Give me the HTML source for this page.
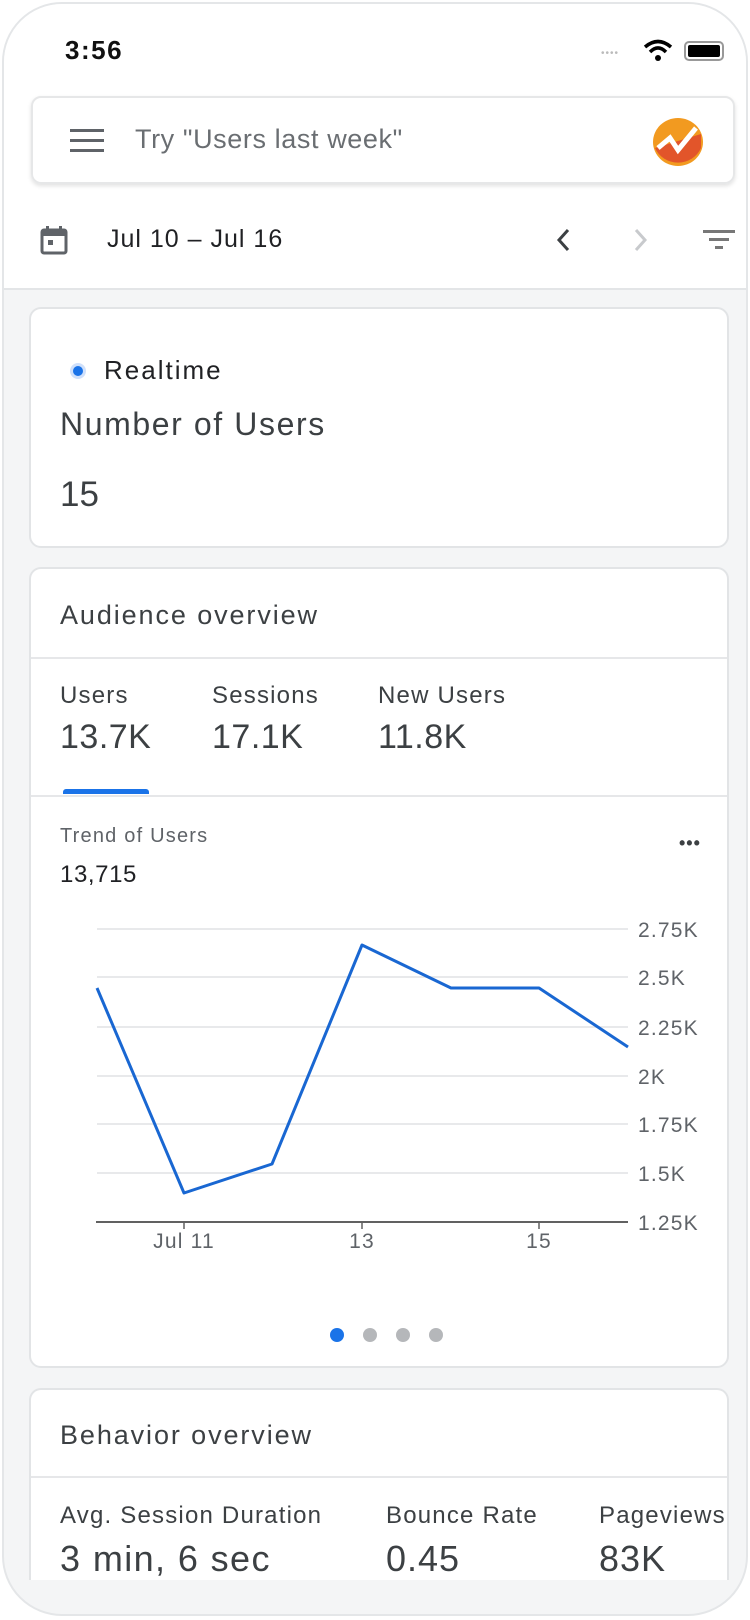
<!DOCTYPE html>
<html><head><meta charset="utf-8"><style>
*{margin:0;padding:0;box-sizing:border-box}
body{width:750px;height:1620px;background:#fff;font-family:"Liberation Sans",Arial,sans-serif;color:#202124;position:relative;overflow:hidden}
.frame{position:absolute;left:2px;top:2px;width:746px;height:1614px;border:2px solid #e4e6e8;border-radius:60px;background:#f4f5f6;overflow:hidden}
.top{position:absolute;left:0;top:0;width:746px;height:286px;background:#fff;border-bottom:2px solid #e3e5e7}
.a{position:absolute;white-space:nowrap}
.card{position:absolute;left:29px;width:700px;background:#fff;border:2px solid #e2e4e6;border-radius:12px;overflow:hidden}
.hr{position:absolute;left:0;right:0;height:2px;background:#e6e7e9}
.lbl{font-size:24px;letter-spacing:1.2px;color:#3c4043}
.ttl{font-size:27px;letter-spacing:1.9px;color:#3c4043}
</style></head><body>
<div class="frame">
<div class="top">
 <div class="a" style="left:61px;top:31px;font-size:26px;letter-spacing:1.5px;font-weight:bold;color:#111">3:56</div>
 <div class="a" style="left:597px;top:44px;font-size:10px;color:#bbb;letter-spacing:1px">••••</div>
 <svg class="a" style="left:639px;top:35px" width="30" height="24" viewBox="0 0 30 24"><path d="M2 8 Q15 -3 28 8" stroke="#000" stroke-width="3.5" fill="none"/><path d="M7 13 Q15 5 23 13" stroke="#000" stroke-width="3.5" fill="none"/><circle cx="15" cy="19" r="3" fill="#000"/></svg>
 <div class="a" style="left:680px;top:37px;width:40px;height:20px;border:2px solid #999;border-radius:5px;padding:2px"><div style="width:100%;height:100%;background:#000;border-radius:2px"></div></div>
 <div class="a" style="left:27px;top:92px;width:704px;height:88px;border:2px solid #e6e7e8;border-radius:10px;box-shadow:0 2px 4px rgba(0,0,0,.12)"></div>
 <div class="a" style="left:66px;top:125px;width:34px;height:3px;background:#5f6368;box-shadow:0 10px 0 #5f6368,0 20px 0 #5f6368"></div>
 <div class="a" style="left:131px;top:120px;font-size:27px;letter-spacing:0.6px;color:#6a6e72">Try "Users last week"</div>
 <svg class="a" style="left:646px;top:110px" width="56" height="56" viewBox="0 0 56 56"><ellipse cx="28" cy="28" rx="25" ry="24" fill="#f29a20"/><path d="M5 34 A25 24 0 0 0 51 34 L51 20 Z" fill="#e2552a"/><path d="M8 34 L20 24 L28 36 L46 14" stroke="#fff" stroke-width="5" fill="none"/></svg>
 <svg class="a" style="left:36px;top:221px" width="28" height="30" viewBox="0 0 28 30"><rect x="2" y="5" width="24" height="23" rx="2" fill="none" stroke="#5f6368" stroke-width="3"/><rect x="2" y="5" width="24" height="6" fill="#5f6368"/><rect x="6" y="1" width="3" height="6" fill="#5f6368"/><rect x="19" y="1" width="3" height="6" fill="#5f6368"/><rect x="8" y="15" width="5" height="5" fill="#5f6368"/></svg>
 <div class="a" style="left:103px;top:221px;font-size:25px;letter-spacing:1px;color:#202124">Jul 10 – Jul 16</div>
 <svg class="a" style="left:550px;top:222px" width="20" height="28"><path d="M14 4 L5 14 L14 24" stroke="#3c4043" stroke-width="3" fill="none"/></svg>
 <svg class="a" style="left:626px;top:222px" width="20" height="28"><path d="M6 4 L15 14 L6 24" stroke="#c8cacd" stroke-width="3" fill="none"/></svg>
 <div class="a" style="left:699px;top:226px;width:32px;height:3px;background:#777"></div>
 <div class="a" style="left:705px;top:234px;width:20px;height:3px;background:#777"></div>
 <div class="a" style="left:711px;top:242px;width:8px;height:3px;background:#777"></div>
</div>
</div>

<div class="card" style="top:307px;height:241px">
 <div class="a" style="left:39px;top:54px;width:16px;height:16px;border-radius:50%;background:#1a73e8;border:3px solid #cfe0fb"></div>
 <div class="a" style="left:73px;top:46px;font-size:26px;letter-spacing:2px">Realtime</div>
 <div class="a" style="left:29px;top:97px;font-size:32px;letter-spacing:1.6px;color:#3c4043">Number of Users</div>
 <div class="a" style="left:29px;top:166px;font-size:35px;color:#3c4043">15</div>
</div>

<div class="card" style="top:567px;height:801px">
 <div class="a ttl" style="left:29px;top:31px">Audience overview</div>
 <div class="hr" style="top:88px"></div>
 <div class="a lbl" style="left:29px;top:113px">Users</div>
 <div class="a" style="left:29px;top:149px;font-size:34px;letter-spacing:0.5px;color:#3c4043">13.7K</div>
 <div class="a lbl" style="left:181px;top:113px">Sessions</div>
 <div class="a" style="left:181px;top:149px;font-size:34px;letter-spacing:0.5px;color:#3c4043">17.1K</div>
 <div class="a lbl" style="left:347px;top:113px">New Users</div>
 <div class="a" style="left:347px;top:149px;font-size:34px;letter-spacing:0.5px;color:#3c4043">11.8K</div>
 <div class="a" style="left:32px;top:220px;width:86px;height:5px;background:#1a73e8;border-radius:3px 3px 0 0"></div>
 <div class="hr" style="top:226px"></div>
 <div class="a" style="left:29px;top:256px;font-size:20px;letter-spacing:1.2px;color:#5f6368">Trend of Users</div>
 <div class="a" style="left:29px;top:292px;font-size:24px;letter-spacing:0.6px;color:#202124">13,715</div>
 <div class="a" style="left:648px;top:264px;font-size:18px;color:#3c4043;letter-spacing:1px;font-weight:bold">•••</div>
 <div class="a" style="left:299px;top:759px;width:14px;height:14px;border-radius:50%;background:#1a73e8"></div>
 <div class="a" style="left:332px;top:759px;width:14px;height:14px;border-radius:50%;background:#b5b7ba"></div>
 <div class="a" style="left:365px;top:759px;width:14px;height:14px;border-radius:50%;background:#b5b7ba"></div>
 <div class="a" style="left:398px;top:759px;width:14px;height:14px;border-radius:50%;background:#b5b7ba"></div>
</div>

<svg class="a" style="left:0;top:0" width="750" height="1300" viewBox="0 0 750 1300">
 <g stroke="#e8e9eb" stroke-width="2">
  <line x1="97" y1="929" x2="628" y2="929"/><line x1="97" y1="977" x2="628" y2="977"/><line x1="97" y1="1027" x2="628" y2="1027"/><line x1="97" y1="1076" x2="628" y2="1076"/><line x1="97" y1="1124" x2="628" y2="1124"/><line x1="97" y1="1173" x2="628" y2="1173"/>
 </g>
 <line x1="96" y1="1222" x2="628" y2="1222" stroke="#616161" stroke-width="2"/>
 <g stroke="#616161" stroke-width="1.5"><line x1="184" y1="1222" x2="184" y2="1229"/><line x1="362" y1="1222" x2="362" y2="1229"/><line x1="539" y1="1222" x2="539" y2="1229"/></g>
 <polyline points="97,988 184,1193 272,1164 362,945 451,988 539,988 628,1047" fill="none" stroke="#1967d2" stroke-width="3" stroke-linejoin="round"/>
 <g font-family="Liberation Sans,Arial,sans-serif" font-size="21" fill="#5f6368" letter-spacing="1.2">
  <text x="638" y="937">2.75K</text><text x="638" y="985">2.5K</text><text x="638" y="1035">2.25K</text><text x="638" y="1084">2K</text><text x="638" y="1132">1.75K</text><text x="638" y="1181">1.5K</text><text x="638" y="1230">1.25K</text>
  <text x="184" y="1248" text-anchor="middle">Jul 11</text><text x="362" y="1248" text-anchor="middle">13</text><text x="539" y="1248" text-anchor="middle">15</text>
 </g>
</svg>

<div class="card" style="top:1388px;height:192px;border-bottom:none;border-radius:12px 12px 0 0">
 <div class="a ttl" style="left:29px;top:30px">Behavior overview</div>
 <div class="hr" style="top:86px"></div>
 <div class="a lbl" style="left:29px;top:112px">Avg. Session Duration</div>
 <div class="a" style="left:29px;top:148px;font-size:36px;letter-spacing:1.4px;color:#3c4043">3 min, 6 sec</div>
 <div class="a lbl" style="left:355px;top:112px">Bounce Rate</div>
 <div class="a" style="left:355px;top:148px;font-size:36px;letter-spacing:1px;color:#3c4043">0.45</div>
 <div class="a lbl" style="left:568px;top:112px">Pageviews</div>
 <div class="a" style="left:568px;top:148px;font-size:36px;letter-spacing:1px;color:#3c4043">83K</div>
</div>
</body></html>
